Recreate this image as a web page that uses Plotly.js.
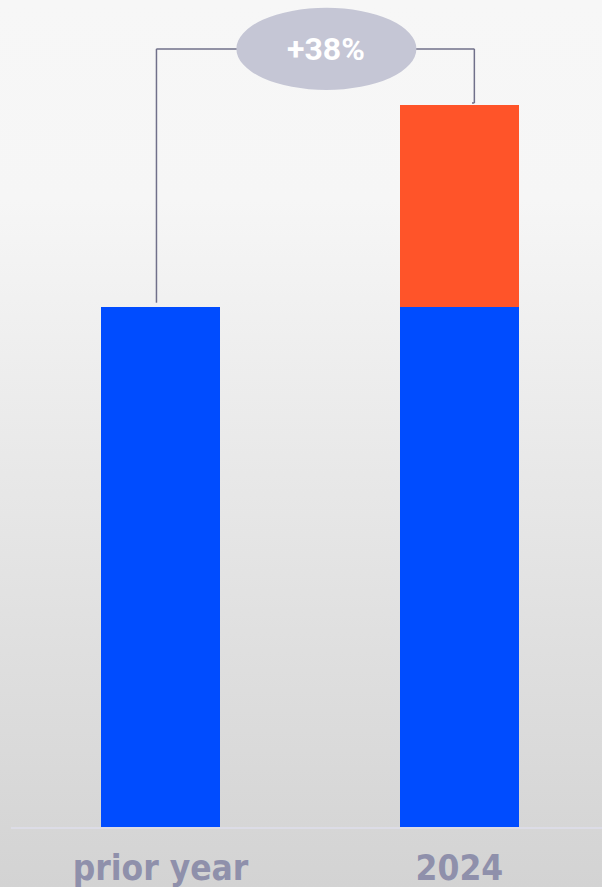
<!DOCTYPE html>
<html>
<head>
<meta charset="utf-8">
<script src="https://cdn.plot.ly/plotly-3.0.1.min.js"></script>
<style>
  html, body { margin: 0; padding: 0; width: 602px; height: 887px; overflow: hidden; }
  body { background: linear-gradient(to bottom, #f7f7f7 0px, #f6f6f6 200px, #d3d3d3 887px); }
  #chart { width: 602px; height: 887px; }
</style>
</head>
<body>
<div id="chart"></div>
<script>
const categories = ['prior year', '2024'];
const baseValues = [100, 100];
const growthValues = [0, 38.8];
const changeLabel = '+38%';

const blue = '#004cff';
const orange = '#ff5429';
const lineColor = '#70708a';

const total2024 = baseValues[1] + growthValues[1];
const bracketY = total2024 + 10.8;

const traces = [
  { type: 'bar', x: categories, y: baseValues, marker: { color: blue }, width: 0.4, hoverinfo: 'skip' },
  { type: 'bar', x: categories, y: growthValues, marker: { color: orange }, width: 0.4, hoverinfo: 'skip' }
];

const lineStyle = { color: lineColor, width: 1.5 };
const shapes = [
  { type: 'line', xref: 'x', yref: 'y', x0: -0.0134, x1: -0.0134, y0: baseValues[0] + 0.8, y1: bracketY, line: lineStyle },
  { type: 'line', xref: 'x', yref: 'y', x0: -0.0134, x1: 0.27, y0: bracketY, y1: bracketY, line: lineStyle },
  { type: 'line', xref: 'x', yref: 'y', x0: 0.84, x1: 1.05, y0: bracketY, y1: bracketY, line: lineStyle },
  { type: 'line', xref: 'x', yref: 'y', x0: 1.05, x1: 1.05, y0: bracketY, y1: total2024 + 0.4, line: lineStyle },
  { type: 'line', xref: 'x', yref: 'y', x0: 1.05, x1: 1.042, y0: total2024 + 0.4, y1: total2024 + 0.4, line: lineStyle },
  { type: 'circle', xref: 'x', yref: 'y', x0: 0.254, x1: 0.856, y0: bracketY - 7.9, y1: bracketY + 7.9,
    fillcolor: '#c5c6d5', line: { width: 0 }, layer: 'above' }
];

const layout = {
  width: 602, height: 887,
  margin: { l: 11, r: 0, t: 0, b: 60 },
  paper_bgcolor: 'rgba(0,0,0,0)',
  plot_bgcolor: 'rgba(0,0,0,0)',
  barmode: 'stack',
  showlegend: false,
  xaxis: {
    type: 'category', range: [-0.5, 1.477], fixedrange: true,
    showgrid: false, zeroline: false,
    showline: true, linecolor: '#dcdce6', linewidth: 2,
    ticks: '', ticklabelstandoff: 9,
    tickfont: { family: 'DejaVu Sans Condensed, sans-serif', size: 35, color: '#8f90ab', weight: 'bold' }
  },
  yaxis: { range: [0, 159], visible: false, showgrid: false, zeroline: false, fixedrange: true },
  shapes: shapes,
  annotations: [
    { xref: 'x', yref: 'y', x: 0.555, y: bracketY, text: changeLabel, showarrow: false,
      font: { family: 'Roboto, sans-serif', size: 32, color: '#ffffff', weight: 'bold' } }
  ]
};

Plotly.newPlot('chart', traces, layout, { displayModeBar: false, staticPlot: true });
</script>
</body>
</html>
